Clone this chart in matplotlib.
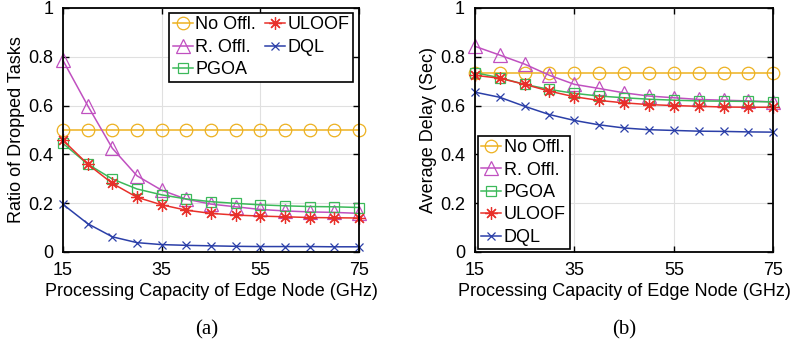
import matplotlib as mpl
mpl.use('Agg')
import matplotlib.pyplot as plt
import numpy as np

capacity = [15, 20, 25, 30, 35, 40, 45, 50, 55, 60, 65, 70, 75]

# (a) ratio of dropped tasks
drop_no_offl = [0.5] * 13
drop_r_offl = [0.785, 0.600, 0.425, 0.312, 0.253, 0.216, 0.196, 0.185, 0.174, 0.168, 0.164, 0.162, 0.158]
drop_pgoa = [0.445, 0.360, 0.299, 0.258, 0.234, 0.217, 0.206, 0.199, 0.193, 0.189, 0.186, 0.185, 0.182]
drop_uloof = [0.458, 0.360, 0.281, 0.224, 0.193, 0.171, 0.158, 0.151, 0.147, 0.144, 0.141, 0.140, 0.139]
drop_dql = [0.195, 0.116, 0.062, 0.038, 0.030, 0.027, 0.025, 0.023, 0.022, 0.022, 0.022, 0.021, 0.021]

# (b) average delay
delay_no_offl = [0.735] * 13
delay_r_offl = [0.843, 0.807, 0.770, 0.724, 0.687, 0.670, 0.652, 0.639, 0.632, 0.625, 0.622, 0.619, 0.615]
delay_pgoa = [0.735, 0.714, 0.687, 0.666, 0.650, 0.639, 0.632, 0.626, 0.622, 0.619, 0.618, 0.617, 0.615]
delay_uloof = [0.724, 0.712, 0.687, 0.659, 0.636, 0.621, 0.611, 0.604, 0.600, 0.597, 0.594, 0.593, 0.593]
delay_dql = [0.655, 0.634, 0.597, 0.563, 0.539, 0.521, 0.508, 0.501, 0.498, 0.495, 0.494, 0.492, 0.491]

names = ['No Offl.', 'R. Offl.', 'PGOA', 'ULOOF', 'DQL']
colors = ['#EDB120', '#C050C0', '#3CB95A', '#E8302A', '#2B3FA8']
markers = ['o', '^', 's', (8, 2, 0), 'x']
msizes = [9, 10, 7, 9, 6]

plt.rcParams['font.family'] = ['Liberation Sans', 'DejaVu Sans']
plt.rcParams['font.size'] = 13

fig = plt.figure(figsize=(7.94, 3.47), dpi=100)
ax1 = fig.add_axes([0.0793, 0.274, 0.373, 0.703])
ax2 = fig.add_axes([0.598, 0.274, 0.376, 0.703])


def draw(ax, series):
    for y, name, c, m, ms in zip(series, names, colors, markers, msizes):
        ax.plot(capacity, y, color=c, marker=m, markersize=ms, markerfacecolor='none',
                markeredgewidth=0.9, linewidth=1.1, label=name, clip_on=False)
    ax.set_xlim(15, 75)
    ax.set_ylim(0, 1)
    ax.set_xticks([15, 35, 55, 75])
    ax.set_yticks([0, 0.2, 0.4, 0.6, 0.8, 1])
    ax.set_yticklabels(['0', '0.2', '0.4', '0.6', '0.8', '1'])
    ax.grid(True, color='#e0e0e0', linewidth=0.8)
    ax.set_axisbelow(True)
    ax.tick_params(direction='in', top=True, right=True, length=4, width=1)
    ax.tick_params(axis='x', pad=7)
    ax.tick_params(axis='y', pad=7)
    for s in ax.spines.values():
        s.set_linewidth(1.3)
    ax.set_xlabel('Processing Capacity of Edge Node (GHz)', labelpad=3)


draw(ax1, [drop_no_offl, drop_r_offl, drop_pgoa, drop_uloof, drop_dql])
ax1.set_ylabel('Ratio of Dropped Tasks', labelpad=2)
leg1 = ax1.legend(ncol=2, loc='upper right', bbox_to_anchor=(0.98, 0.98), fancybox=False,
                  edgecolor='black', framealpha=1, handlelength=1.1, handletextpad=0.15,
                  columnspacing=0.5, labelspacing=0.3, borderpad=0.2, borderaxespad=0)
leg1.get_frame().set_linewidth(1.2)

draw(ax2, [delay_no_offl, delay_r_offl, delay_pgoa, delay_uloof, delay_dql])
ax2.set_ylabel('Average Delay (Sec)', labelpad=2)
leg2 = ax2.legend(loc='lower left', bbox_to_anchor=(0.01, 0.01), fancybox=False,
                  edgecolor='black', framealpha=1, handlelength=1.1, handletextpad=0.15,
                  labelspacing=0.3, borderpad=0.2, borderaxespad=0)
leg2.get_frame().set_linewidth(1.2)

fig.text(0.26, 0.05, '(a)', family='Liberation Serif', fontsize=15, ha='center', va='center')
fig.text(0.786, 0.05, '(b)', family='Liberation Serif', fontsize=15, ha='center', va='center')

fig.savefig('out.png', dpi=100)
